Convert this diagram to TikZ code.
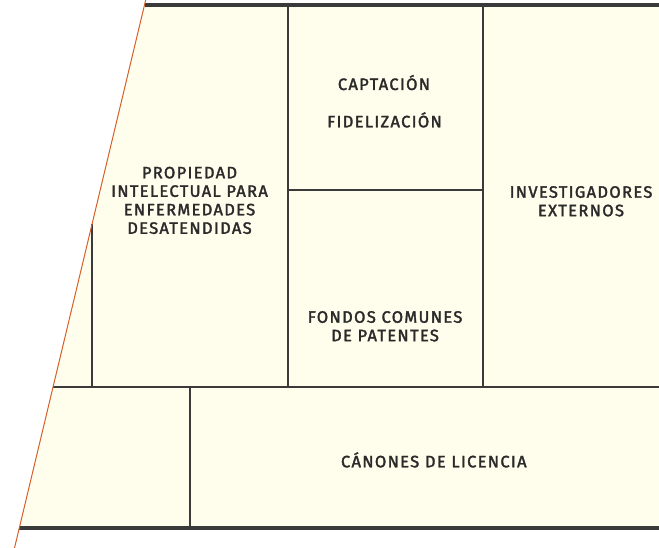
\documentclass[tikz,border=0pt]{standalone}
\usepackage{fontspec}
\setmainfont{Fira Sans}[LetterSpace=8, FakeBold=2]
\usepackage{xcolor}
\usetikzlibrary{calc}

\definecolor{cream}{HTML}{FFFDEB}
\definecolor{rim}{HTML}{D65F2C}
\definecolor{rule}{HTML}{3A3A3A}
\definecolor{ink}{HTML}{2A2A2A}

\begin{document}
\begin{tikzpicture}[
    x=1pt, y=-1pt,
    frame/.style={draw=rule, line width=3.2pt},
    cell/.style={draw=rule, line width=2pt},
    rimline/.style={draw=rim, line width=1pt},
    label/.style={text=ink, align=center, inner sep=0pt, font=\fontsize{16.5}{18.5}\selectfont}
]
\useasboundingbox (0,0) rectangle (659,548);

% slanted rim and the points where the rules meet it
\coordinate (rimtop) at (145.7,0);
\coordinate (rimbot) at (14.5,548);
\coordinate (rimA) at (144.5,5);
\coordinate (rimB) at (92,224.3);
\coordinate (rimC) at (53.2,386.5);
\coordinate (rimD) at (19.3,528);
\coordinate (topR) at (659,5);
\coordinate (midR) at (659,386.5);
\coordinate (botR) at (659,528);

\fill[cream] (rimA) -- (topR) -- (botR) -- (rimD) -- cycle;

% cell rules
\draw[cell] (rimC) -- (midR);
\draw[cell] (rimB) -- (92,386.5);
\draw[cell] (287.5,5) -- (287.5,386.5);
\draw[cell] (483,5) -- (483,386.5);
\draw[cell] (287.5,190) -- (483,190);
\draw[cell] (190,386.5) -- (190,528);

\draw[frame] (rimA) -- (topR);
\draw[frame] (rimD) -- (botR);
\draw[rimline] (rimtop) -- (rimbot);

% labels
\node[label] (ipnd) at (189.5,200.4) {PROPIEDAD\\INTELECTUAL PARA\\ENFERMEDADES\\DESATENDIDAS};
\node[label, anchor=base] (capt) at (384,90) {CAPTACIÓN};
\node[label, anchor=base] (fidel) at (384.5,127.3) {FIDELIZACIÓN};
\node[label] (pool) at (385,326.3) {FONDOS COMUNES\\DE PATENTES};
\node[label] (extern) at (581,201.3) {INVESTIGADORES\\EXTERNOS};
\node[label, anchor=base] (canon) at (433.8,467.3) {CÁNONES DE LICENCIA};
\end{tikzpicture}
\end{document}
